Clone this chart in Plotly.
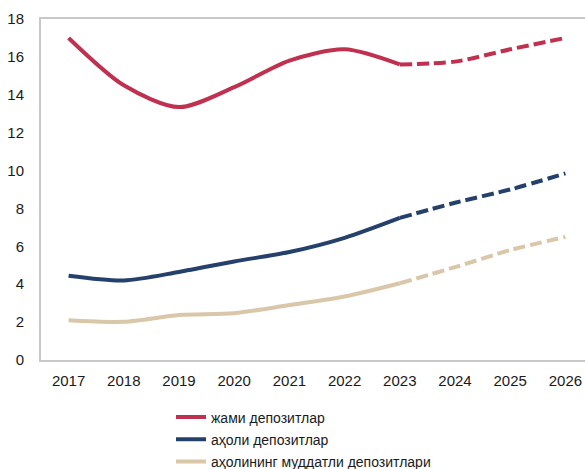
import plotly.graph_objects as go

years = [2017, 2018, 2019, 2020, 2021, 2022, 2023, 2024, 2025, 2026]
total = [17.0, 14.5, 13.35, 14.4, 15.8, 16.4, 15.6, 15.75, 16.4, 17.0]
household = [4.45, 4.2, 4.65, 5.2, 5.7, 6.45, 7.5, 8.3, 9.0, 9.85]
household_term = [2.1, 2.02, 2.37, 2.47, 2.9, 3.35, 4.05, 4.9, 5.8, 6.5]
names = ["жами депозитлар", "аҳоли депозитлар", "аҳолининг муддатли депозитлари"]
colors = ["#C0304F", "#25406B", "#DAC6A8"]
split = years.index(2023)
yticks = [0, 2, 4, 6, 8, 10, 12, 14, 16, 18]

fig = go.Figure()
for name, vals, col in zip(names, [total, household, household_term], colors):
    fig.add_trace(go.Scatter(x=years[:split + 1], y=vals[:split + 1], mode="lines",
                             line=dict(color=col, width=4, shape="spline", smoothing=0.8),
                             name=name, legendgroup=name))
    fig.add_trace(go.Scatter(x=years[split:], y=vals[split:], mode="lines",
                             line=dict(color=col, width=4, shape="spline", smoothing=0.8,
                                       dash="12px,5px"),
                             name=name, legendgroup=name, showlegend=False))

fig.update_layout(
    width=585, height=469,
    margin=dict(l=41, r=0, t=19, b=109, autoexpand=False),
    paper_bgcolor="white", plot_bgcolor="white",
    font=dict(family="Liberation Sans, Arial, sans-serif", size=15, color="#1a1a1a"),
    showlegend=True,
    legend=dict(x=(171 - 41) / 544, y=-(401.5 - 360) / 341, xanchor="left", yanchor="top",
                orientation="v", font=dict(size=14), tracegroupgap=1,
                bgcolor="rgba(0,0,0,0)"),
    xaxis=dict(range=[2016.5, 2026.355], tickmode="array", tickvals=years,
               ticktext=[str(y) for y in years], showgrid=False, zeroline=False,
               showline=True, linecolor="#C8C8C8", linewidth=2, mirror=True,
               ticks="", ticklen=0, automargin=False, ticklabelstandoff=6),
    yaxis=dict(range=[0, 18], tickvals=yticks, showgrid=False, zeroline=False,
               showline=True, linecolor="#C8C8C8", linewidth=2, ticks="",
               ticklabelstandoff=12, automargin=False),
)
fig.write_html("out.html", config={"displayModeBar": False},
               post_script="document.body.style.margin='0';")
